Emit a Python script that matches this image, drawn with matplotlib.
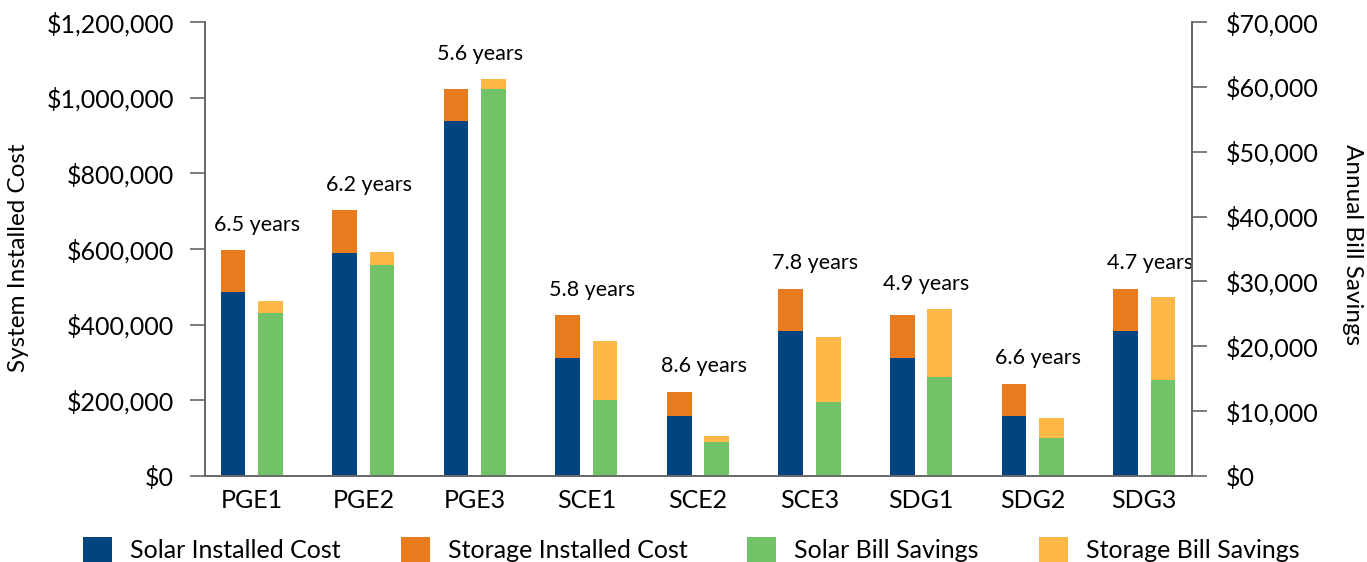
import matplotlib.pyplot as plt
import numpy as np
from matplotlib.ticker import FuncFormatter

# data
sites = ['PGE1', 'PGE2', 'PGE3', 'SCE1', 'SCE2', 'SCE3', 'SDG1', 'SDG2', 'SDG3']
solar_cost = [485000, 590000, 937000, 313000, 159000, 383000, 313000, 159000, 383000]
storage_cost = [112000, 113000, 86000, 113000, 64000, 112000, 113000, 85000, 112000]
solar_savings = [25200, 32500, 59700, 11700, 5200, 11400, 15200, 5900, 14800]
storage_savings = [1800, 2000, 1500, 9100, 1000, 10000, 10500, 3000, 12800]
payback = ['6.5 years', '6.2 years', '5.6 years', '5.8 years', '8.6 years',
           '7.8 years', '4.9 years', '6.6 years', '4.7 years']

col_solar_cost = '#00457F'
col_storage_cost = '#E87B1E'
col_solar_sav = '#72C267'
col_storage_sav = '#FDB746'
spine_col = '#666666'

plt.rcParams['font.family'] = ['Lato', 'DejaVu Sans']
fsz = 18

fig = plt.figure(figsize=(13.67, 5.62), dpi=100)
ax = fig.add_axes([0.15, 0.153, 0.722, 0.808])
ax2 = ax.twinx()

xx = np.arange(len(sites))
w = 0.22
off = 0.168

ax.bar(xx - off, solar_cost, width=w, color=col_solar_cost, label='Solar Installed Cost')
ax.bar(xx - off, storage_cost, width=w, bottom=solar_cost, color=col_storage_cost,
       label='Storage Installed Cost')
ax2.bar(xx + off, solar_savings, width=w, color=col_solar_sav, label='Solar Bill Savings')
ax2.bar(xx + off, storage_savings, width=w, bottom=solar_savings, color=col_storage_sav,
        label='Storage Bill Savings')

ymax1, ymax2 = 1200000, 70000
ax.set_ylim(0, ymax1)
ax2.set_ylim(0, ymax2)
ax.set_xlim(-0.42, 8.43)
ax.set_yticks(np.arange(0, ymax1 + 1, 200000))
ax2.set_yticks(np.arange(0, ymax2 + 1, 10000))
money = FuncFormatter(lambda v, p: '${:,.0f}'.format(v))
ax.yaxis.set_major_formatter(money)
ax2.yaxis.set_major_formatter(money)
ax.set_xticks(xx)
ax.set_xticklabels(sites)

# payback labels above the taller of the two bars
scale = ymax1 / ymax2
for i in range(len(sites)):
    top = max(solar_cost[i] + storage_cost[i],
              (solar_savings[i] + storage_savings[i]) * scale)
    ax.annotate(payback[i], (xx[i] + 0.05, top), xytext=(0, 11), textcoords='offset points',
                ha='center', va='bottom', fontsize=15.5)

for a in (ax, ax2):
    a.spines['top'].set_visible(False)
    for s in ('left', 'right', 'bottom'):
        a.spines[s].set_color(spine_col)
        a.spines[s].set_linewidth(1.2)
ax.tick_params(axis='y', length=10.5, width=1.2, color=spine_col, labelsize=fsz, pad=12)
ax2.tick_params(axis='y', length=10.5, width=1.2, color=spine_col, labelsize=fsz, pad=14)
ax.tick_params(axis='x', length=0, labelsize=fsz, pad=9)

ax.set_ylabel('System Installed Cost', fontsize=17.5)
ax.yaxis.set_label_coords(-0.178, 0.48)
ax2.set_ylabel('Annual Bill Savings', fontsize=17.5, rotation=270, va='center')
ax2.yaxis.set_label_coords(1.163, 0.51)

h1, l1 = ax.get_legend_handles_labels()
h2, l2 = ax2.get_legend_handles_labels()
fig.legend(h1 + h2, l1 + l2, ncol=4, loc='center left', bbox_to_anchor=(83 / 1367, 12 / 562),
           frameon=False, fontsize=fsz, handlelength=1.16, handleheight=1.2,
           handletextpad=0.72, columnspacing=2.4, borderpad=0, borderaxespad=0)

fig.savefig('out.png', dpi=100)
